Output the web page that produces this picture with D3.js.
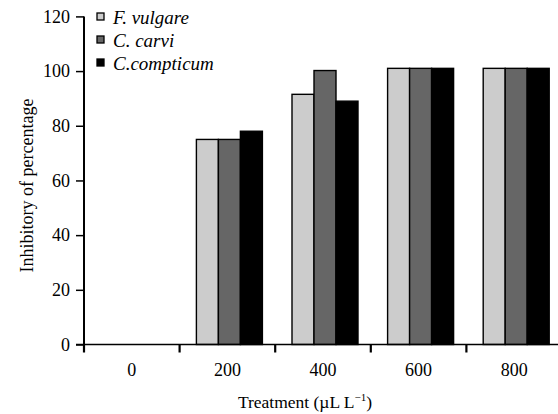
<!DOCTYPE html>
<html><head><meta charset="utf-8">
<script src="https://cdn.jsdelivr.net/npm/d3@7"></script>
<style>
html,body{margin:0;padding:0;background:#fff;overflow:hidden;}
svg{display:block;font-family:"Liberation Serif","Times New Roman",serif;}
</style></head>
<body>
<svg id="chart" width="558" height="414"></svg>
<script>
const categories = ["0", "200", "400", "600", "800"];
const seriesNames = ["F. vulgare", "C. carvi", "C.compticum"];
const fVulgare = [0, 75, 91.5, 101, 101];
const cCarvi = [0, 75, 100.2, 101, 101];
const cCompticum = [0, 78, 89, 101, 101];
const yTicks = [0, 20, 40, 60, 80, 100, 120];
const colors = ["#cccccc", "#666666", "#000000"];

const seriesValues = [fVulgare, cCarvi, cCompticum];
const svg = d3.select("#chart");
const x0 = 84, x1 = 562, yTop = 16.4, yBot = 344.5;

const x = d3.scaleBand().domain(categories).range([x0, x1]).paddingInner(0).paddingOuter(0);
const groupW = 66;
const groupShift = 2;
const xs = d3.scaleBand().domain(seriesNames).range([0, groupW]);
const y = d3.scaleLinear().domain([0, 120]).range([yBot, yTop]);

// bars
categories.forEach((c, i) => {
  const gx = x(c) + (x.bandwidth() - groupW) / 2 + groupShift;
  seriesNames.forEach((s, j) => {
    const v = seriesValues[j][i];
    if (v <= 0) return;
    svg.append("rect")
      .attr("x", gx + xs(s))
      .attr("y", y(v))
      .attr("width", xs.bandwidth())
      .attr("height", y(0) - y(v))
      .attr("fill", colors[j])
      .attr("stroke", "#000")
      .attr("stroke-width", 1.4);
  });
});

// y axis
const yAxis = d3.axisLeft(y).tickValues(yTicks).tickSize(8).tickPadding(6);
const gy = svg.append("g").attr("transform", `translate(${x0},0)`).call(yAxis);
gy.attr("font-family", "Liberation Serif").attr("font-size", 18);
gy.select(".domain").attr("stroke-width", 2).attr("d", `M0,${yBot}V${yTop}`);
gy.selectAll(".tick line").attr("stroke-width", 1.5);
gy.selectAll(".tick text").attr("font-size", 18).attr("font-family", "Liberation Serif").attr("fill", "#000");

// x axis
const gx = svg.append("g").attr("transform", `translate(0,${yBot})`);
gx.append("line").attr("x1", x0 - 8).attr("x2", 558).attr("y1", 0).attr("y2", 0)
  .attr("stroke", "#000").attr("stroke-width", 1.5);
const boundaries = categories.map(c => x(c));
gx.selectAll(".xt").data(boundaries).enter().append("line")
  .attr("x1", d => d).attr("x2", d => d).attr("y1", 0).attr("y2", 8)
  .attr("stroke", "#000").attr("stroke-width", 2.2);
gx.selectAll(".xl").data(categories).enter().append("text")
  .attr("x", d => x(d) + x.bandwidth() / 2)
  .attr("y", 31)
  .attr("text-anchor", "middle")
  .attr("font-size", 18)
  .text(d => d);

// axis titles
svg.append("text")
  .attr("transform", `translate(33,${(yTop + yBot) / 2 + 5}) rotate(-90)`)
  .attr("text-anchor", "middle")
  .attr("font-size", 18)
  .text("Inhibitory of percentage");

const xt = svg.append("text")
  .attr("x", 305).attr("y", 408)
  .attr("text-anchor", "middle")
  .attr("font-size", 17.5);
xt.append("tspan").text("Treatment (\u00B5L L");
xt.append("tspan").attr("dy", -7).attr("font-size", 11).text("\u22121");
xt.append("tspan").attr("dy", 7).text(")");

// legend
const leg = svg.append("g").attr("transform", "translate(97,10)");
seriesNames.forEach((s, j) => {
  const g = leg.append("g").attr("transform", `translate(0,${j * 23})`);
  g.append("rect").attr("x", 0).attr("y", 3).attr("width", 7).attr("height", 7)
    .attr("fill", colors[j]).attr("stroke", "#000").attr("stroke-width", 1.3);
  g.append("text").attr("x", 16).attr("y", 13.5)
    .attr("font-size", 19).attr("font-style", "italic").text(s);
});
</script>
</body></html>
